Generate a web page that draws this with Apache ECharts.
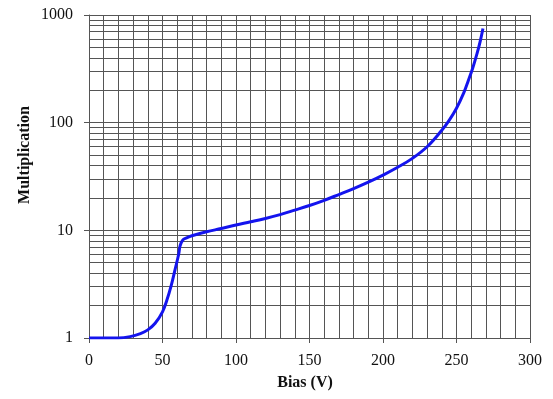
<!DOCTYPE html>
<html>
<head>
<meta charset="utf-8">
<script src="https://cdn.jsdelivr.net/npm/echarts@6/dist/echarts.min.js"></script>
<style>
  html, body { margin: 0; padding: 0; background: #fff; }
  #main { width: 553px; height: 399px; }
</style>
</head>
<body>
<div id="main"></div>
<script>
// values
const bias = [0, 10, 20, 28, 35, 40, 45, 50, 53, 56, 58.5, 61, 62, 63.7, 66.4, 70, 80, 90, 100, 110, 120,
  130, 140, 150, 160, 170, 180, 190, 200, 210, 220, 230, 240, 245, 250, 255, 258, 261, 264, 266, 268];
const multiplication = [1.0, 1.0, 1.0, 1.03, 1.1, 1.19, 1.37, 1.75, 2.25, 3.1, 4.3, 6.0, 7.2, 8.1, 8.5, 8.9, 9.7, 10.4, 11.2, 12.0, 12.9,
  14.0, 15.4, 17.0, 19.0, 21.5, 24.4, 28.0, 32.6, 38.5, 46.6, 59.7, 85, 105, 136, 190, 245, 320, 440, 560, 750];
// log-scale minor grid lines
const minorGridValues = [2, 3, 4, 5, 6, 7, 8, 9, 20, 30, 40, 50, 60, 70, 80, 90, 200, 300, 400, 500, 600, 700, 800, 900];

const gridColor = "#555";
const serif = "Liberation Serif";

let dom = document.getElementById("main");
let myChart = echarts.init(dom, null, { renderer: "canvas" });

let option = {
    animation: false,
    grid: { left: 89, right: 23, top: 15, bottom: 61 },
    xAxis: {
        type: "value",
        min: 0,
        max: 300,
        interval: 50,
        axisLine: { lineStyle: { color: gridColor } },
        axisTick: { show: true, length: 5, lineStyle: { color: gridColor } },
        axisLabel: { color: "#111", fontFamily: serif, fontSize: 16, margin: 15 },
        splitLine: { lineStyle: { color: gridColor, width: 1 } },
        minorTick: { show: false, splitNumber: 5 },
        minorSplitLine: { show: true, lineStyle: { color: gridColor, width: 1 } },
    },
    yAxis: {
        type: "log",
        logBase: 10,
        min: 1,
        max: 1000,
        axisLine: { show: true, lineStyle: { color: gridColor } },
        axisTick: { show: true, length: 5, lineStyle: { color: gridColor } },
        axisLabel: {
            color: "#111", fontFamily: serif, fontSize: 16, margin: 16,
            formatter: v => String(Math.round(v)),
        },
        splitLine: { lineStyle: { color: gridColor, width: 1 } },
    },
    graphic: [
        {
            type: "text",
            x: 25, y: 155,
            rotation: Math.PI / 2,
            style: {
                text: "Multiplication",
                font: "bold 16px 'Liberation Serif'",
                fill: "#111",
                align: "center",
                verticalAlign: "middle",
            },
        },
        {
            type: "text",
            x: 305, y: 383,
            style: {
                text: "Bias (V)",
                font: "bold 16px 'Liberation Serif'",
                fill: "#111",
                align: "center",
                verticalAlign: "middle",
            },
        },
    ],
    series: [
        {
            type: "line",
            data: [],
            z: 1,
            silent: true,
            markLine: {
                silent: true,
                symbol: "none",
                label: { show: false },
                lineStyle: { color: gridColor, width: 1, type: "solid" },
                data: minorGridValues.map(v => ({ yAxis: v })),
            },
        },
        {
            type: "line",
            z: 5,
            data: bias.map((b, i) => [b, multiplication[i]]),
            showSymbol: false,
            smooth: 0.4,
            lineStyle: { color: "#1414ee", width: 3 },
        },
    ],
};

myChart.setOption(option);
window.addEventListener("resize", myChart.resize);
</script>
</body>
</html>
